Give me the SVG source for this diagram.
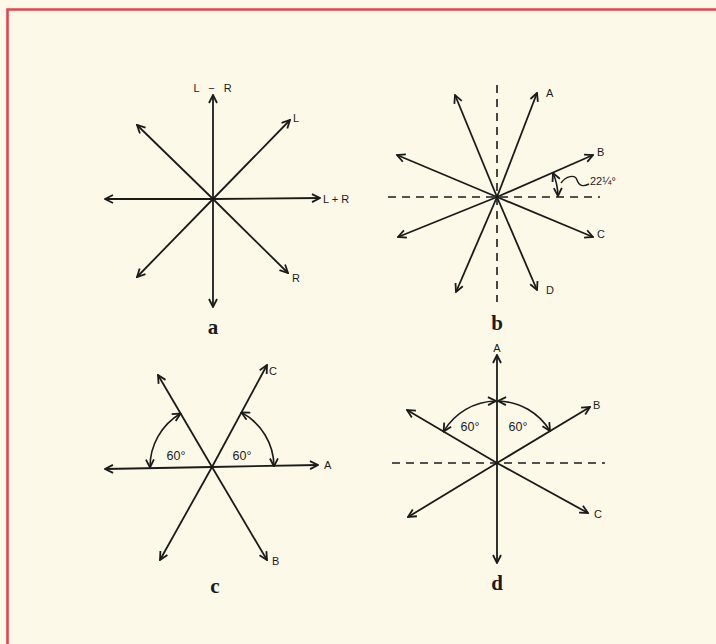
<svg xmlns="http://www.w3.org/2000/svg" width="716" height="644" viewBox="0 0 716 644">
<style>
.ln{stroke:#1b1b1b;stroke-width:1.8;fill:none;marker-end:url(#ah)}
.arc{stroke:#1b1b1b;stroke-width:1.6;fill:none;marker-start:url(#ah);marker-end:url(#ah)}
.dash{stroke:#1b1b1b;stroke-width:1.6;fill:none;stroke-dasharray:8 6}
.lb{font-family:"Liberation Sans",Arial,sans-serif;font-size:11px;fill:#1b1b1b}
.dg{font-family:"Liberation Sans",Arial,sans-serif;font-size:12.5px;fill:#1b1b1b;text-anchor:middle}
.cap{font-family:"Liberation Serif","Times New Roman",serif;font-size:21px;font-weight:bold;fill:#1b1b1b;text-anchor:middle}
</style>
<defs>
<marker id="ah" viewBox="0 0 10 10" refX="9" refY="5" markerWidth="10" markerHeight="10" markerUnits="userSpaceOnUse" orient="auto-start-reverse">
<path d="M1,1 L9,5 L1,9" fill="none" stroke="#1b1b1b" stroke-width="1.8"/>
</marker>
</defs>
<rect width="716" height="644" fill="#fdf9e8"/>
<path d="M7.5,644 L7.5,9.5 L716,9.5" fill="none" stroke="#e6434b" stroke-width="2.6"/>

<g id="connectors">
<!-- a -->
<line class="ln" x1="213" y1="199" x2="213" y2="95"/>
<line class="ln" x1="213" y1="199" x2="213" y2="307"/>
<line class="ln" x1="213" y1="199" x2="105" y2="199"/>
<line class="ln" x1="213" y1="199" x2="320" y2="198"/>
<line class="ln" x1="213" y1="199" x2="290" y2="120"/>
<line class="ln" x1="213" y1="199" x2="137" y2="125"/>
<line class="ln" x1="213" y1="199" x2="137" y2="277"/>
<line class="ln" x1="213" y1="199" x2="288" y2="273"/>
<!-- b -->
<line class="dash" x1="497" y1="85" x2="497" y2="302"/>
<line class="dash" x1="388" y1="197" x2="600" y2="197"/>
<line class="ln" x1="497" y1="197" x2="537" y2="93"/>
<line class="ln" x1="497" y1="197" x2="455" y2="95"/>
<line class="ln" x1="497" y1="197" x2="593" y2="155"/>
<line class="ln" x1="497" y1="197" x2="397" y2="155"/>
<line class="ln" x1="497" y1="197" x2="398" y2="237"/>
<line class="ln" x1="497" y1="197" x2="593" y2="237"/>
<line class="ln" x1="497" y1="197" x2="456" y2="292"/>
<line class="ln" x1="497" y1="197" x2="537" y2="290"/>
<path class="arc" d="M558,196 A61,61 0 0 0 553,173"/>
<path d="M561,183 C566,176 575,174 577,180 C579,186 583,187 589,184" fill="none" stroke="#1b1b1b" stroke-width="1.4"/>
<!-- c -->
<line class="ln" x1="212" y1="467" x2="318" y2="465"/>
<line class="ln" x1="212" y1="467" x2="105" y2="469"/>
<line class="ln" x1="212" y1="467" x2="267" y2="365"/>
<line class="ln" x1="212" y1="467" x2="158" y2="375"/>
<line class="ln" x1="212" y1="467" x2="160" y2="560"/>
<line class="ln" x1="212" y1="467" x2="267" y2="560"/>
<path class="arc" d="M180.6,413.5 A62,62 0 0 0 150,467.5"/>
<path class="arc" d="M241.4,412.4 A62,62 0 0 1 274,466.5"/>
<!-- d -->
<line class="dash" x1="392" y1="463" x2="605" y2="463"/>
<line class="ln" x1="497" y1="463" x2="497" y2="355"/>
<line class="ln" x1="497" y1="463" x2="497" y2="563"/>
<line class="ln" x1="497" y1="463" x2="590" y2="407"/>
<line class="ln" x1="497" y1="463" x2="407" y2="410"/>
<line class="ln" x1="497" y1="463" x2="408" y2="517"/>
<line class="ln" x1="497" y1="463" x2="588" y2="513"/>
<path class="arc" d="M496,401 A62,62 0 0 0 443.6,431.5"/>
<path class="arc" d="M498,401 A62,62 0 0 1 550,431"/>
</g>

<g id="diagram-a">
<text class="lb" x="214" y="92" text-anchor="middle" letter-spacing="3">L − R</text>
<text class="lb" x="293" y="122">L</text>
<text class="lb" x="323" y="203">L + R</text>
<text class="lb" x="292" y="282">R</text>
<text class="cap" x="213" y="334">a</text>
</g>
<g id="diagram-b">
<text class="lb" x="546" y="97">A</text>
<text class="lb" x="597" y="156">B</text>
<text class="lb" x="597" y="238">C</text>
<text class="lb" x="546" y="294">D</text>
<text class="lb" x="590" y="185" font-size="12">22¼°</text>
<text class="cap" x="497" y="330">b</text>
</g>
<g id="diagram-c">
<text class="lb" x="269" y="375">C</text>
<text class="lb" x="324" y="469">A</text>
<text class="lb" x="272" y="565">B</text>
<text class="dg" x="176" y="460">60°</text>
<text class="dg" x="242" y="460">60°</text>
<text class="cap" x="215" y="593">c</text>
</g>
<g id="diagram-d">
<text class="lb" x="497" y="352" text-anchor="middle">A</text>
<text class="lb" x="593" y="409">B</text>
<text class="lb" x="594" y="518">C</text>
<text class="dg" x="470" y="431">60°</text>
<text class="dg" x="518" y="431">60°</text>
<text class="cap" x="497" y="590">d</text>
</g>
</svg>
